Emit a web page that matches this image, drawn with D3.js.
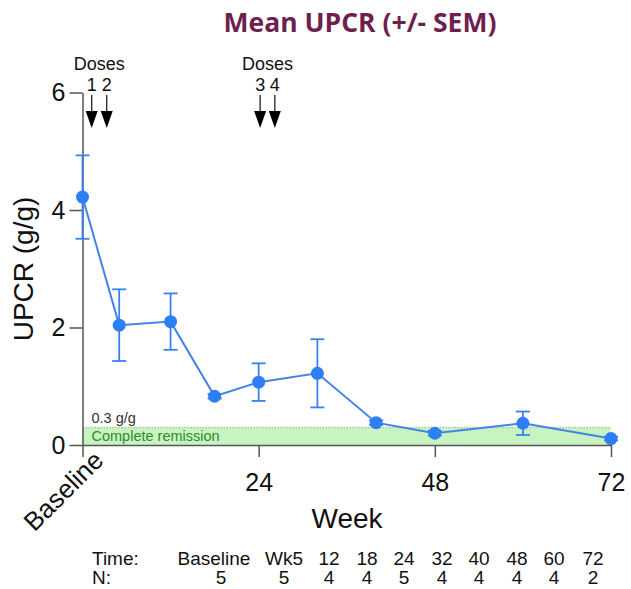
<!DOCTYPE html>
<html>
<head>
<meta charset="utf-8">
<script src="https://cdn.jsdelivr.net/npm/d3@7"></script>
<style>
  body { margin: 0; background: #fff; }
  text { font-family: "Liberation Sans", Arial, sans-serif; }
</style>
</head>
<body>
<div id="chart"></div>
<script>
// data
const weeks = [0, 5, 12, 18, 24, 32, 40, 48, 60, 72];
const upcrMean = [4.22, 2.04, 2.10, 0.83, 1.07, 1.22, 0.38, 0.20, 0.37, 0.11];
const upcrSem = [0.71, 0.61, 0.48, 0.04, 0.32, 0.58, 0.04, 0.04, 0.20, 0.03];

const doseWeeks = [1.25, 3.3, 24.2, 26.2];
const doseLabels = ["1", "2", "3", "4"];
const doseGroups = [[0, 1], [2, 3]];

const remissionLevel = 0.3;

const xTickValues = [0, 24, 48, 72];
const xTickLabels = ["Baseline", "24", "48", "72"];
const yTickValues = [0, 2, 4, 6];

const tableTimes = ["Baseline", "Wk5", "12", "18", "24", "32", "40", "48", "60", "72"];
const tableN = ["5", "5", "4", "4", "5", "4", "4", "4", "4", "2"];

// layout
const width = 631, height = 589;
const plot = {left: 82.5, right: 611, top: 92.5, bottom: 445};
const tableColX = [218, 284, 329, 367, 404, 442, 479, 517, 554, 593];

const svg = d3.select("#chart")
    .append("svg")
    .attr("width", width)
    .attr("height", height);

const x = d3.scaleLinear()
    .domain([0, 72])
    .range([plot.left, plot.right]);

const y = d3.scaleLinear()
    .domain([0, 6])
    .range([plot.bottom, plot.top]);

// title
svg.append("text")
    .attr("x", 360)
    .attr("y", 32)
    .attr("text-anchor", "middle")
    .style("font-family", "'Open Sans', sans-serif")
    .style("font-weight", "bold")
    .style("font-size", "26.5px")
    .style("fill", "#6e1f50")
    .text("Mean UPCR (+/- SEM)");

// complete remission band
svg.append("rect")
    .attr("x", x(0))
    .attr("y", y(remissionLevel))
    .attr("width", x(72) - x(0))
    .attr("height", y(0) - y(remissionLevel))
    .style("fill", "#c8f4c1");

svg.append("line")
    .attr("x1", x(0))
    .attr("x2", x(72))
    .attr("y1", y(remissionLevel))
    .attr("y2", y(remissionLevel))
    .attr("stroke", "#a8c4a0")
    .attr("stroke-width", 1.5)
    .attr("stroke-dasharray", "1.5,1.5");

svg.append("text")
    .attr("x", x(0) + 9)
    .attr("y", y(remissionLevel) - 4)
    .style("font-size", "14.5px")
    .style("fill", "#333")
    .text("0.3 g/g");

svg.append("text")
    .attr("x", x(0) + 9)
    .attr("y", y(0) - 4)
    .style("font-size", "14.5px")
    .style("fill", "#2f8a2c")
    .text("Complete remission");

// axes
const yAxis = svg.append("g")
    .attr("transform", `translate(${plot.left},0)`)
    .call(d3.axisLeft(y).tickValues(yTickValues).tickSize(13).tickSizeOuter(0).tickPadding(4)
        .tickFormat(d3.format("d")));

const xAxis = svg.append("g")
    .attr("transform", `translate(0,${plot.bottom})`)
    .call(d3.axisBottom(x).tickValues(xTickValues).tickSize(12).tickSizeOuter(0).tickPadding(16)
        .tickFormat((d, i) => xTickLabels[i]));

[yAxis, xAxis].forEach(function (g) {
    g.select(".domain").attr("stroke", "#555").attr("stroke-width", 1.5);
    g.selectAll(".tick line").attr("stroke", "#555").attr("stroke-width", 1.5);
    g.selectAll(".tick text")
        .style("font-family", "'Liberation Sans', Arial, sans-serif")
        .style("font-size", "25px")
        .style("fill", "#111");
});

// rotate the Baseline tick label
xAxis.selectAll(".tick text")
    .filter(d => d === 0)
    .attr("text-anchor", "end")
    .attr("dy", null)
    .attr("y", null)
    .attr("transform", "translate(22,17) rotate(-45)")
    .style("font-size", "26px");

// axis titles
svg.append("text")
    .attr("x", 347)
    .attr("y", 528)
    .attr("text-anchor", "middle")
    .style("font-size", "28px")
    .style("fill", "#111")
    .text("Week");

svg.append("text")
    .attr("transform", "translate(33,269) rotate(-90)")
    .attr("text-anchor", "middle")
    .style("font-size", "28px")
    .style("fill", "#111")
    .text("UPCR (g/g)");

// dose arrows
doseWeeks.forEach(function (w, i) {
    const ax = x(w);
    svg.append("text")
        .attr("x", ax)
        .attr("y", 91)
        .attr("text-anchor", "middle")
        .style("font-size", "18px")
        .style("fill", "#111")
        .text(doseLabels[i]);
    svg.append("line")
        .attr("x1", ax).attr("x2", ax)
        .attr("y1", 95).attr("y2", 113)
        .attr("stroke", "#222")
        .attr("stroke-width", 1.3);
    svg.append("path")
        .attr("d", `M${ax - 6},111L${ax + 6},111L${ax},128Z`)
        .style("fill", "#000");
});

doseGroups.forEach(function (g) {
    svg.append("text")
        .attr("x", (x(doseWeeks[g[0]]) + x(doseWeeks[g[1]])) / 2)
        .attr("y", 70)
        .attr("text-anchor", "middle")
        .style("font-size", "18px")
        .style("fill", "#111")
        .text("Doses");
});

// series
const points = weeks.map((w, i) => ({week: w, mean: upcrMean[i], sem: upcrSem[i]}));
const blue = "#3a80ee";

const bars = svg.append("g").selectAll("g")
    .data(points)
    .enter().append("g");

bars.append("line")
    .attr("x1", d => x(d.week)).attr("x2", d => x(d.week))
    .attr("y1", d => y(d.mean + d.sem)).attr("y2", d => y(d.mean - d.sem))
    .attr("stroke", blue).attr("stroke-width", 1.8);

bars.append("line")
    .attr("x1", d => x(d.week) - 7).attr("x2", d => x(d.week) + 7)
    .attr("y1", d => y(d.mean + d.sem)).attr("y2", d => y(d.mean + d.sem))
    .attr("stroke", blue).attr("stroke-width", 1.8);

bars.append("line")
    .attr("x1", d => x(d.week) - 7).attr("x2", d => x(d.week) + 7)
    .attr("y1", d => y(d.mean - d.sem)).attr("y2", d => y(d.mean - d.sem))
    .attr("stroke", blue).attr("stroke-width", 1.8);

svg.append("path")
    .datum(points)
    .attr("d", d3.line().x(d => x(d.week)).y(d => y(d.mean)))
    .attr("fill", "none")
    .attr("stroke", "#4683e6")
    .attr("stroke-width", 2);

svg.append("g").selectAll("circle")
    .data(points)
    .enter().append("circle")
    .attr("cx", d => x(d.week))
    .attr("cy", d => y(d.mean))
    .attr("r", 6.5)
    .style("fill", "#2f7ff4");

// table underneath
const table = svg.append("g").style("font-size", "19px").style("fill", "#111");

table.append("text").attr("x", 92).attr("y", 565).text("Time:");
table.append("text").attr("x", 92).attr("y", 584).text("N:");

tableTimes.forEach(function (t, i) {
    table.append("text")
        .attr("x", tableColX[i] - (i === 0 ? 4 : 0))
        .attr("y", 565)
        .attr("text-anchor", "middle")
        .text(t);
    table.append("text")
        .attr("x", tableColX[i] + (i === 0 ? 3 : 0))
        .attr("y", 584)
        .attr("text-anchor", "middle")
        .text(tableN[i]);
});
</script>
</body>
</html>
